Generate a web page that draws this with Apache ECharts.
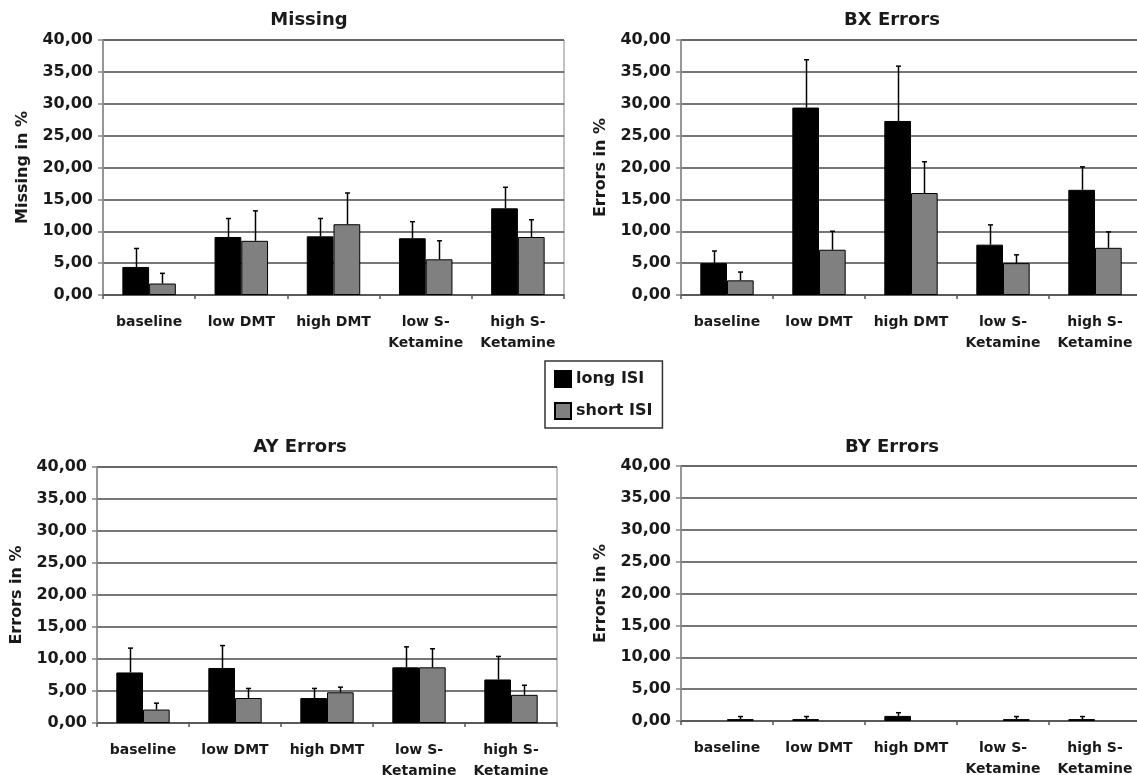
<!DOCTYPE html>
<html>
<head>
<meta charset="utf-8">
<script src="https://cdn.jsdelivr.net/npm/echarts@6/dist/echarts.min.js"></script>
<style>
html,body{margin:0;padding:0;background:#fff;}
#chart{width:1137px;height:775px;}
</style>
</head>
<body>
<div id="chart"></div>
<script>
// ---- data ----
const categories = ['baseline', 'low DMT', 'high DMT', 'low S-\nKetamine', 'high S-\nKetamine'];
const seriesNames = ['long ISI', 'short ISI'];
const panelTitles = ['Missing', 'BX Errors', 'AY Errors', 'BY Errors'];
const yAxisNames = ['Missing in %', 'Errors in %', 'Errors in %', 'Errors in %'];
const yMin = 0, yMax = 40, yStep = 5;

const missingLong = [4.4, 9.1, 9.2, 8.9, 13.6];
const missingLongErr = [2.9, 2.9, 2.8, 2.6, 3.3];
const missingShort = [1.8, 8.5, 11.1, 5.6, 9.1];
const missingShortErr = [1.6, 4.7, 4.9, 2.9, 2.7];

const bxLong = [5.0, 29.4, 27.3, 7.9, 16.5];
const bxLongErr = [1.9, 7.5, 8.6, 3.1, 3.6];
const bxShort = [2.3, 7.1, 16.0, 5.0, 7.4];
const bxShortErr = [1.3, 2.9, 4.9, 1.3, 2.5];

const ayLong = [7.9, 8.6, 3.9, 8.7, 6.8];
const ayLongErr = [3.8, 3.5, 1.5, 3.2, 3.6];
const ayShort = [2.1, 3.9, 4.8, 8.7, 4.4];
const ayShortErr = [1.0, 1.5, 0.8, 2.9, 1.5];

const byLong = [0, 0.3, 0.8, 0, 0.3];
const byLongErr = [0, 0.4, 0.5, 0, 0.4];
const byShort = [0.3, 0, 0, 0.3, 0];
const byShortErr = [0.4, 0, 0, 0.4, 0];

// ---- build ----
const panels = [
  {long: missingLong, longErr: missingLongErr, short: missingShort, shortErr: missingShortErr},
  {long: bxLong, longErr: bxLongErr, short: bxShort, shortErr: bxShortErr},
  {long: ayLong, longErr: ayLongErr, short: ayShort, shortErr: ayShortErr},
  {long: byLong, longErr: byLongErr, short: byShort, shortErr: byShortErr}
];

const FONT = 'DejaVu Sans';
const TXT = '#1a1a1a';
const CAT_GAP = 0.42;

const grids = [
  {left: 103, top: 40, width: 461, height: 255},
  {left: 681, top: 40, width: 460, height: 255},
  {left: 97, top: 467, width: 460, height: 256},
  {left: 681, top: 466, width: 460, height: 255}
];
const titlePos = [
  {x: 309, y: 11}, {x: 892, y: 11}, {x: 300, y: 438}, {x: 892, y: 438}
];

function errRender(params, api) {
  const i = api.value(0), v = api.value(1), t = api.value(2), side = api.value(3);
  const band = api.size([1, 0])[0];
  const bw = band * (1 - CAT_GAP) / 2;
  const base = api.coord([i, v]);
  const top = api.coord([i, t]);
  const cx = Math.round(base[0] + side * bw / 2) + 0.5;
  return {
    type: 'group',
    children: [
      {type: 'line', shape: {x1: cx, y1: base[1], x2: cx, y2: top[1]}, style: {stroke: '#000', lineWidth: 1.5}},
      {type: 'line', shape: {x1: cx - 2.5, y1: top[1], x2: cx + 2.5, y2: top[1]}, style: {stroke: '#000', lineWidth: 1.5}}
    ]
  };
}

const option = {
  backgroundColor: '#fff',
  animation: false,
  title: panelTitles.map((t, k) => ({
    text: t, left: titlePos[k].x, top: titlePos[k].y, textAlign: 'center', padding: 0,
    textStyle: {fontFamily: FONT, fontWeight: 'bold', fontSize: 18, color: TXT}
  })),
  legend: {
    data: seriesNames,
    orient: 'vertical',
    left: 545, top: 361,
    padding: [9, 10, 8, 9],
    itemGap: 14,
    itemWidth: 16, itemHeight: 16,
    icon: 'rect',
    borderColor: '#333', borderWidth: 1.5,
    textStyle: {fontFamily: FONT, fontWeight: 'bold', fontSize: 16, color: TXT, padding: [0, 0, 0, 0]}
  },
  grid: grids.map(g => Object.assign({
    show: true, borderColor: '#888', borderWidth: 1, backgroundColor: 'transparent',
    containLabel: false, outerBoundsMode: 'none'
  }, g)),
  xAxis: grids.map((g, k) => ({
    type: 'category', gridIndex: k, data: categories, boundaryGap: true,
    axisLine: {lineStyle: {color: '#555', width: 1.5}},
    axisTick: {show: true, length: 4, interval: 0, lineStyle: {color: '#555', width: 1.5}},
    axisLabel: {interval: 0, margin: 17, lineHeight: 21, fontFamily: FONT, fontWeight: 'bold', fontSize: 14, color: TXT}
  })),
  yAxis: grids.map((g, k) => ({
    type: 'value', gridIndex: k, min: yMin, max: yMax, interval: yStep,
    name: yAxisNames[k], nameLocation: 'middle', nameRotate: 90, nameGap: 72,
    nameTextStyle: {fontFamily: FONT, fontWeight: 'bold', fontSize: 16, color: TXT},
    axisLine: {show: true, lineStyle: {color: '#888', width: 1.5}},
    axisTick: {show: true, length: 5, lineStyle: {color: '#888', width: 1.5}},
    splitLine: {show: true, lineStyle: {color: '#4a4a4a', width: 1.5}},
    axisLabel: {margin: 10, fontFamily: FONT, fontWeight: 'bold', fontSize: 16, color: TXT,
      formatter: v => v.toFixed(2).replace('.', ',')}
  })),
  series: []
};

panels.forEach((p, k) => {
  option.series.push({
    name: seriesNames[0], type: 'bar', xAxisIndex: k, yAxisIndex: k,
    data: p.long.map(v => (v > 0 ? v : null)),
    barCategoryGap: (CAT_GAP * 100) + '%', barGap: '0%',
    itemStyle: {color: '#000', borderColor: '#000', borderWidth: 1}, z: 2
  });
  option.series.push({
    name: seriesNames[1], type: 'bar', xAxisIndex: k, yAxisIndex: k,
    data: p.short.map(v => (v > 0 ? v : null)),
    barCategoryGap: (CAT_GAP * 100) + '%', barGap: '0%',
    itemStyle: {color: '#808080', borderColor: '#000', borderWidth: 1}, z: 2
  });
  const errData = [];
  p.long.forEach((v, i) => { if (p.longErr[i] > 0) errData.push([i, v, v + p.longErr[i], -1]); });
  p.short.forEach((v, i) => { if (p.shortErr[i] > 0) errData.push([i, v, v + p.shortErr[i], 1]); });
  option.series.push({
    name: 'error', type: 'custom', xAxisIndex: k, yAxisIndex: k,
    renderItem: errRender, data: errData, z: 5, silent: true,
    encode: {x: 0, y: [1, 2]}
  });
});

const chart = echarts.init(document.getElementById('chart'), null, {renderer: 'canvas'});
chart.setOption(option);
</script>
</body>
</html>
